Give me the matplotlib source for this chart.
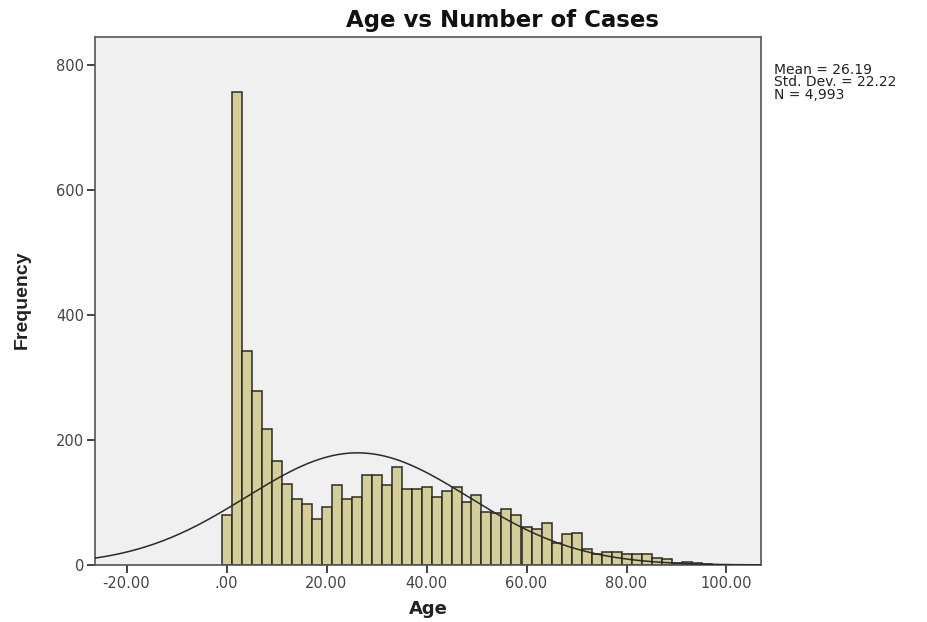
import numpy as np
import matplotlib
matplotlib.use("Agg")
import matplotlib.pyplot as plt

# ---- data ----
bin_start = -1.0
bin_width = 2.0
counts = [80, 756, 342, 278, 218, 166, 130, 105, 97, 73, 92, 128, 105, 109,
          144, 144, 128, 157, 121, 121, 124, 109, 119, 125, 100, 112, 85, 83,
          89, 80, 61, 57, 67, 35, 49, 51, 26, 18, 20, 20, 18, 17, 17, 11, 10,
          3, 4, 3, 1]
mean_age = 26.19
std_age = 22.22
n_cases = 4993
xticks = [-20, 0, 20, 40, 60, 80, 100]
xtick_labels = ["-20.00", ".00", "20.00", "40.00", "60.00", "80.00", "100.00"]
yticks = [0, 200, 400, 600, 800]

fig = plt.figure(figsize=(9.27, 6.22), dpi=100)
ax = fig.add_axes([95/927, 1-565/622, (761-95)/927, (565-37)/622])
ax.set_facecolor("#f0f0f0")

edges = bin_start + bin_width * np.arange(len(counts))
ax.bar(edges, counts, width=bin_width, align="edge", color="#d4cf98",
       edgecolor="#2a2a2a", linewidth=1.1, zorder=2)

xs = np.linspace(-26.3, 106.9, 400)
pdf = n_cases * bin_width / (std_age * np.sqrt(2*np.pi)) * np.exp(-0.5*((xs-mean_age)/std_age)**2)
ax.plot(xs, pdf, color="#2a2a2a", linewidth=1.1, zorder=3)

ax.set_xlim(-26.3, 106.9)
ax.set_ylim(0, 844)
ax.set_xticks(xticks)
ax.set_xticklabels(xtick_labels)
ax.set_yticks(yticks)
ax.tick_params(axis="both", direction="out", length=6, width=1.2, pad=2,
               labelsize=10.5, labelcolor="#444444", color="#222222")
for s in ax.spines.values():
    s.set_color("#555555")
    s.set_linewidth(1.2)

fig.text(428/927, 1-609/622, "Age", ha="center", va="center",
         fontsize=13, fontweight="bold", color="#222222")
fig.text(22/927, 1-300/622, "Frequency", ha="center", va="center", rotation=90,
         fontsize=14, fontweight="bold", color="#222222",
         family=["Liberation Sans Narrow", "Liberation Sans"])
fig.text(503/927, 1-20/622, "Age vs Number of Cases", ha="center", va="center",
         fontsize=16.5, fontweight="bold", color="#111111")
fig.text(774/927, 1-63/622,
         "Mean = %.2f\nStd. Dev. = %.2f\nN = %s" % (mean_age, std_age, format(n_cases, ",")),
         ha="left", va="top", fontsize=10, linespacing=0.85, color="#222222")

fig.savefig("out.png", dpi=100, facecolor="white")
